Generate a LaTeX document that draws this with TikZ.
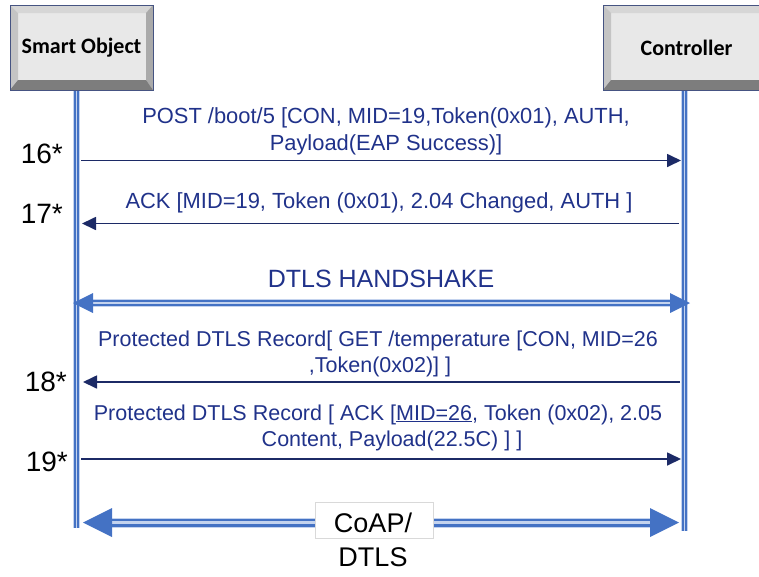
\documentclass[tikz,border=0pt]{standalone}
\usepackage{fontspec}
\setmainfont{Liberation Sans}
\newfontfamily\boxfont{Carlito}
\usetikzlibrary{arrows.meta,calc}

\definecolor{pipeblue}{RGB}{68,114,196}
\definecolor{pipelight}{RGB}{196,211,238}
\definecolor{msgline}{RGB}{28,42,102}
\definecolor{msgtext}{RGB}{32,50,138}
\definecolor{faceg}{RGB}{232,232,232}
\definecolor{bevtop}{RGB}{214,214,214}
\definecolor{bevleft}{RGB}{196,196,196}
\definecolor{bevright}{RGB}{170,170,170}
\definecolor{bevbot}{RGB}{125,125,125}
\definecolor{boxedge}{RGB}{70,84,130}

\tikzset{
  bevelbox/.style={draw=boxedge, line width=0.8pt, fill=faceg,
    minimum height=85pt, inner sep=0pt,
    font=\boxfont\bfseries\fontsize{22}{26}\selectfont,
    path picture={
      \path (path picture bounding box.north west) coordinate (bnw)
            (path picture bounding box.north east) coordinate (bne)
            (path picture bounding box.south west) coordinate (bsw)
            (path picture bounding box.south east) coordinate (bse);
      \fill[bevtop] (bnw) -- (bne) -- ($(bne)+(-7,8)$) -- ($(bnw)+(8,8)$) -- cycle;
      \fill[bevleft] (bnw) -- ($(bnw)+(8,8)$) -- ($(bsw)+(8,-10)$) -- (bsw) -- cycle;
      \fill[bevright] (bne) -- ($(bne)+(-7,8)$) -- ($(bse)+(-7,-10)$) -- (bse) -- cycle;
      \fill[bevbot] (bsw) -- ($(bsw)+(8,-10)$) -- ($(bse)+(-7,-10)$) -- (bse) -- cycle;
    }},
  pipe/.style={draw=pipeblue, line width=5.5pt,
    preaction={draw=pipelight, line width=7.5pt},
    postaction={draw=pipelight, line width=1.8pt}},
  widepipe/.style={draw=pipeblue, line width=8pt,
    preaction={draw=pipelight, line width=10pt},
    postaction={draw=pipelight, line width=3pt}},
  msg/.style={draw=msgline, line width=1.7pt, -{Triangle[length=14pt,width=13pt]}},
  msglabel/.style={text=msgtext, anchor=base, inner sep=0pt,
    font=\fontsize{21.9}{26}\selectfont},
  reclabel/.style={msglabel, font=\fontsize{21.5}{26}\selectfont},
  seqno/.style={anchor=base east, inner sep=0pt, font=\fontsize{28}{32}\selectfont},
}

\begin{document}
\begin{tikzpicture}[x=1pt,y=-1pt]
\useasboundingbox (0,0) rectangle (759,576);

% lifelines
\coordinate (soTop) at (76.5,90);
\coordinate (soBot) at (76.5,528);
\coordinate (ctTop) at (684.5,90);
\coordinate (ctBot) at (684.5,531);
\draw[pipe] (soTop) -- (soBot);
\draw[pipe] (ctTop) -- (ctBot);

% participants
\node[bevelbox, minimum width=143pt] (so) at (81.5,47.5) {Smart Object};
\node[bevelbox, minimum width=167pt] (ct) at (686.5,47.5) {Controller};

% message 16
\coordinate (m16a) at (81,160.5);
\coordinate (m16b) at (681,160.5);
\draw[msg] (m16a) -- (m16b);
\node[msglabel] (l16a) at (386,123) {POST /boot/5 [CON, MID=19,Token(0x01), AUTH,};
\node[msglabel] (l16b) at (386,150) {Payload(EAP Success)]};
\node[seqno] (n16) at (63,163) {16*};

% message 17
\coordinate (m17a) at (679,223.5);
\coordinate (m17b) at (82,223.5);
\draw[msg] (m17a) -- (m17b);
\node[msglabel] (l17) at (379,208) {ACK [MID=19, Token (0x01), 2.04 Changed, AUTH ]};
\node[seqno] (n17) at (63,223) {17*};

% DTLS handshake
\coordinate (hsL) at (73,303);
\coordinate (hsR) at (690,303);
\draw[pipe] ($(hsL)+(19,0)$) -- ($(hsR)+(-19,0)$);
\fill[pipeblue] (hsL) -- ($(hsL)+(20,-10)$) -- ($(hsL)+(20,10)$) -- cycle;
\fill[pipeblue] (hsR) -- ($(hsR)+(-20,-10)$) -- ($(hsR)+(-20,10)$) -- cycle;
\node[msglabel, font=\fontsize{25}{30}\selectfont] (hs) at (381,287) {DTLS HANDSHAKE};

% message 18
\coordinate (m18a) at (680,382);
\coordinate (m18b) at (83,382);
\draw[msg] (m18a) -- (m18b);
\node[reclabel] (l18a) at (378,346) {Protected DTLS Record[ GET /temperature [CON, MID=26};
\node[reclabel] (l18b) at (380,372) {,Token(0x02)] ]};
\node[seqno] (n18) at (67,391) {18*};

% message 19
\coordinate (m19a) at (81,459);
\coordinate (m19b) at (681,459);
\draw[msg] (m19a) -- (m19b);
\node[reclabel] (l19a) at (378,420) {Protected DTLS Record [ ACK [\underline{MID=26}, Token (0x02), 2.05};
\node[reclabel] (l19b) at (392,446) {Content, Payload(22.5C) ] ]};
\node[seqno] (n19) at (68,471) {19*};

% CoAP/DTLS span
\coordinate (baL) at (83,522.5);
\coordinate (baR) at (679,522.5);
\draw[widepipe] ($(baL)+(28,0)$) -- ($(baR)+(-28,0)$);
\fill[pipeblue] (baL) -- ($(baL)+(29,-14.5)$) -- ($(baL)+(29,14.5)$) -- cycle;
\fill[pipeblue] (baR) -- ($(baR)+(-29,-14.5)$) -- ($(baR)+(-29,14.5)$) -- cycle;
\node[draw=black!15, fill=white, line width=0.6pt, minimum width=118pt, minimum height=36pt] (coapbox) at (374,520) {};
\node[anchor=base, inner sep=0pt, font=\fontsize{27}{32}\selectfont] (coap1) at (373,532) {CoAP/};
\node[anchor=base, inner sep=0pt, font=\fontsize{27}{32}\selectfont] (coap2) at (373,566) {DTLS};
\end{tikzpicture}
\end{document}
